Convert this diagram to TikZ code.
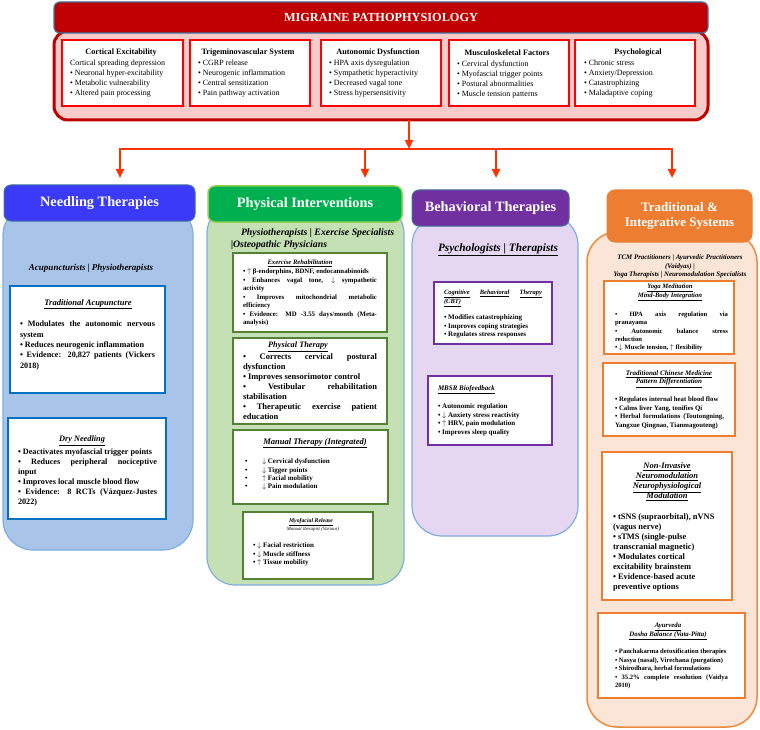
\documentclass[tikz,border=0pt]{standalone}
\usepackage{fontspec}
\setmainfont{Liberation Serif}
\usetikzlibrary{arrows.meta}
\definecolor{tred}{HTML}{C00000}
\definecolor{tbord}{HTML}{41719C}
\definecolor{cpink}{HTML}{F8CBCB}
\definecolor{bred}{HTML}{FF0000}
\definecolor{arrowc}{HTML}{FF3300}
\definecolor{nblue}{HTML}{3A3AF8}
\definecolor{nbodyc}{HTML}{A8C4E8}
\definecolor{nline}{HTML}{0070C0}
\definecolor{bodyline}{HTML}{7FAEDE}
\definecolor{pgreen}{HTML}{00B050}
\definecolor{pgline}{HTML}{92D050}
\definecolor{pbodyc}{HTML}{C5E0B4}
\definecolor{pline}{HTML}{548235}
\definecolor{bpurp}{HTML}{7030A0}
\definecolor{bbodyc}{HTML}{E5D6F2}
\definecolor{torange}{HTML}{ED7D31}
\definecolor{tbodyc}{HTML}{FBE5D6}
\definecolor{tline}{HTML}{F08A3C}
\tolerance=9999 \hyphenpenalty=10000 \exhyphenpenalty=10000 \hbadness=10000
\newcommand\fs[2]{\fontsize{#1}{#2}\selectfont}
\newcommand\mkbox[7]{\pgfmathsetmacro\mkbw{#5-#3}\pgfmathsetmacro\mkbh{#6-#4}%
  \node[#1, minimum width=\mkbw pt, minimum height=\mkbh pt, anchor=north west, inner sep=0pt, outer sep=0pt] (#2) at (#3,#4) {#7};}
\begin{document}
\begin{tikzpicture}[x=1pt,y=-1pt,
  every node/.style={inner sep=0pt, outer sep=0pt},
  txt/.style={anchor=north west, align=justify},
  lft/.style={anchor=north west, align=left},
  ctr/.style={align=center},
  topbox/.style={draw=bred, line width=1.6pt, fill=white},
  toptitle/.style={font=\bfseries\fs{8.2}{10}},
  topitems/.style={lft, font=\fs{8}{10}},
  headbox/.style={rounded corners=7pt, text=white, align=center, font=\bfseries\fs{14.3}{16}},
  nbox/.style={draw=nline, line width=2pt, fill=white},
  pbox/.style={draw=pline, line width=2pt, fill=white},
  bbox/.style={draw=bpurp, line width=1.6pt, fill=white},
  obox/.style={draw=torange, line width=2pt, fill=white},
  flowline/.style={draw=arrowc, line width=2.2pt, line cap=rect},
  arrowline/.style={draw=arrowc, line width=2.2pt, -{Triangle[length=9pt,width=8pt]}}]
\useasboundingbox (0,0) rectangle (760,730);

% ---------- pathophysiology ----------
\mkbox{draw=tred, line width=3pt, fill=cpink, rounded corners=14pt}{cont}{54}{31}{708}{120}{}
\mkbox{draw=tbord, line width=1.2pt, fill=tred, rounded corners=6pt, text=white, font=\bfseries\fs{12.3}{14}}{title}{54}{2}{708}{33}{MIGRAINE PATHOPHYSIOLOGY}

\mkbox{topbox}{ce}{62}{40}{183}{106}{}
\node[toptitle] (ceT) at (121,53) {Cortical Excitability};
\node[topitems] (ceL) at (70,60.4) {Cortical spreading depression\\• Neuronal hyper-excitability\\• Metabolic vulnerability\\• Altered pain processing};

\mkbox{topbox}{tv}{190}{40}{310}{106}{}
\node[toptitle] (tvT) at (248,53) {Trigeminovascular System};
\node[topitems] (tvL) at (198,60.4) {• CGRP release\\• Neurogenic inflammation\\• Central sensitization\\• Pain pathway activation};

\mkbox{topbox}{ad}{321}{40}{441}{106}{}
\node[toptitle] (adT) at (378,53) {Autonomic Dysfunction};
\node[topitems] (adL) at (329,60.4) {• HPA axis dysregulation\\• Sympathetic hyperactivity\\• Decreased vagal tone\\• Stress hypersensitivity};

\mkbox{topbox}{ms}{449}{40}{569}{106}{}
\node[toptitle] (msT) at (507,53) {Musculoskeletal Factors};
\node[topitems] (msL) at (457,60.4) {• Cervical dysfunction\\• Myofascial trigger points\\• Postural abnormalities\\• Muscle tension patterns};

\mkbox{topbox}{ps}{575}{40}{695}{106}{}
\node[toptitle] (psT) at (638,53) {Psychological};
\node[topitems] (psL) at (584,60.4) {• Chronic stress\\• Anxiety/Depression\\• Catastrophizing\\• Maladaptive coping};

% ---------- connectors ----------
\coordinate (hub) at (409,149);
\coordinate (jN) at (120,149);
\coordinate (jP) at (365,149);
\coordinate (jB) at (496,149);
\coordinate (jT) at (672,149);
\coordinate (tN) at (120,178);
\coordinate (tP) at (365,178);
\coordinate (tB) at (496,178);
\coordinate (tT) at (672,178);
\draw[arrowline] (cont.south -| hub) -- (hub);
\draw[flowline] (jN) -- (jT);
\draw[arrowline] (jN) -- (tN);
\draw[arrowline] (jP) -- (tP);
\draw[arrowline] (jB) -- (tB);
\draw[arrowline] (jT) -- (tT);

% ---------- needling ----------
\mkbox{draw=bodyline, line width=1.2pt, fill=nbodyc, rounded corners=30pt}{nbody}{3}{205}{193}{550}{}
\mkbox{headbox, draw=tbord, line width=1pt, fill=nblue}{nhead}{4}{185}{195}{221}{Needling Therapies}
\node[font=\bfseries\itshape\fs{9}{11}] (nprof) at (91,268) {Acupuncturists | Physiotherapists};
\mkbox{nbox}{acu}{10}{286}{165}{393}{}
\node[font=\bfseries\itshape\fs{8.5}{10}] (acuT) at (88,304) {\underline{Traditional Acupuncture}};
\node[txt, text width=135pt, font=\bfseries\fs{8.2}{10.3}] (acuL) at (20,321.3) {• Modulates the autonomic nervous\linebreak system\\• Reduces neurogenic inflammation\\• Evidence: 20,827 patients (Vickers\linebreak 2018)};
\mkbox{nbox}{dry}{8}{418}{166}{519}{}
\node[font=\bfseries\itshape\fs{8.3}{10}] (dryT) at (82,441) {\underline{Dry Needling}};
\node[txt, text width=139pt, font=\bfseries\fs{8.2}{10}] (dryL) at (18,448.3) {• Deactivates myofascial trigger points\\• Reduces peripheral nociceptive\linebreak input\\• Improves local muscle blood flow\\• Evidence: 8 RCTs (Vázquez-Justes\linebreak 2022)};

% ---------- physical ----------
\mkbox{draw=bodyline, line width=1.2pt, fill=pbodyc, rounded corners=28pt}{pbody}{207}{205}{404}{585}{}
\mkbox{headbox, draw=pgline, line width=1.5pt, fill=pgreen}{phead}{208}{186}{402}{222}{Physical Interventions}
\node[anchor=west, font=\bfseries\itshape\fs{9.8}{11}] (pprofA) at (241,233) {Physiotherapists | Exercise Specialists};
\node[anchor=west, font=\bfseries\itshape\fs{9.8}{11}] (pprofB) at (231,245) {|Osteopathic Physicians};
\mkbox{pbox}{exr}{233}{253}{387}{332}{}
\node[font=\bfseries\itshape\fs{6.7}{8}] (exrT) at (300,263) {\underline{Exercise Rehabilitation}};
\node[txt, text width=134pt, font=\bfseries\fs{6.8}{8.5}] (exrL) at (243,268.9) {• $\uparrow$ β-endorphins, BDNF, endocannabinoids\\• Enhances vagal tone, $\downarrow$ sympathetic\linebreak activity\\• Improves mitochondrial metabolic\linebreak efficiency\\• Evidence: MD -3.55 days/month (Meta-\linebreak analysis)};
\mkbox{pbox}{pht}{233}{338}{387}{424}{}
\node[font=\bfseries\itshape\fs{8.3}{10}] (phtT) at (298,347) {\underline{Physical Therapy}};
\node[txt, text width=134pt, font=\bfseries\fs{8.5}{10}] (phtL) at (243,353.2) {• Corrects cervical postural\linebreak dysfunction\\• Improves sensorimotor control\\• Vestibular rehabilitation\linebreak stabilisation\\• Therapeutic exercise patient\linebreak education};
\mkbox{pbox}{man}{233}{430}{388}{504}{}
\node[font=\bfseries\itshape\fs{8.5}{10}] (manT) at (315,443) {\underline{Manual Therapy (Integrated)}};
\node[lft, font=\bfseries\fs{7}{8.3}] (manL) at (245,458.8) {\makebox[17pt][l]{•}$\downarrow$ Cervical dysfunction\\\makebox[17pt][l]{•}$\downarrow$ Tigger points\\\makebox[17pt][l]{•}$\uparrow$ Facial mobility\\\makebox[17pt][l]{•}$\downarrow$ Pain modulation};
\mkbox{pbox}{myo}{243}{512}{373}{579}{}
\node[font=\bfseries\itshape\fs{5.8}{7}] (myoT) at (311,522) {\underline{Myofacial Release}};
\node[font=\itshape\fs{4.8}{6}] (myoS) at (313,529) {Manual therapist (Various)};
\node[lft, font=\bfseries\fs{7}{8.5}] (myoL) at (253,542.8) {• $\downarrow$ Facial restriction\\• $\downarrow$ Muscle stiffness\\• $\uparrow$ Tissue mobility};

% ---------- behavioral ----------
\mkbox{draw=bodyline, line width=1.2pt, fill=bbodyc, rounded corners=30pt}{bbody}{412}{215}{578}{536}{}
\mkbox{headbox, draw=tbord, line width=1pt, fill=bpurp}{bhead}{412}{190}{569}{226}{Behavioral Therapies}
\node[font=\bfseries\itshape\fs{11.3}{13}] (bprof) at (498,250) {\underline{Psychologists | Therapists}};
\mkbox{bbox}{cbt}{434}{282}{552}{344}{}
\node[lft, font=\bfseries\itshape\fs{6.5}{9}] (cbtT) at (444,290) {\hbox to 98pt{\underline{Cognitive}\hfill\underline{Behavioral}\hfill\underline{Therapy}}\\\underline{(CBT)}};
\node[lft, font=\bfseries\fs{7}{8.5}] (cbtL) at (444,314.8) {• Modifies catastrophizing\\• Improves coping strategies\\• Regulates stress responses};
\mkbox{bbox}{mbsr}{428}{376}{552}{445}{}
\node[anchor=west, font=\bfseries\itshape\fs{7}{8.5}] (mbsrT) at (438,390) {\underline{MBSR Biofeedback}};
\node[lft, font=\bfseries\fs{7}{8.5}] (mbsrL) at (438,403.8) {• Autonomic regulation\\• $\downarrow$ Anxiety stress reactivity\\• $\uparrow$ HRV, pain modulation\\• Improves sleep quality};

% ---------- traditional ----------
\mkbox{draw=tline, line width=1.5pt, fill=tbodyc, rounded corners=30pt}{tbody}{587}{232}{757}{727}{}
\mkbox{headbox, draw=torange, line width=1pt, fill=torange, rounded corners=8pt, font=\bfseries\fs{13}{15}}{thead}{607}{190}{752}{242}{Traditional \&\\Integrative Systems}
\node[ctr, font=\bfseries\itshape\fs{6.9}{8.5}] (tprof) at (680,266.5) {TCM Practitioners | Ayurvedic Practitioners\\(Vaidyas) |\\Yoga Therapists | Neuromodulation Specialists};
\mkbox{obox}{yoga}{604}{281}{734}{354}{}
\node[ctr, font=\bfseries\itshape\fs{6.7}{9}] (yogaT) at (670,292.5) {\underline{Yoga Meditation}\\\underline{Mind-Body Integration}};
\node[txt, text width=113pt, font=\bfseries\fs{6.6}{8.3}] (yogaL) at (615,312) {• HPA axis regulation via\linebreak pranayama\\• Autonomic balance stress\linebreak reduction\\• $\downarrow$ Muscle tension, $\uparrow$ flexibility};
\mkbox{obox}{tcm}{603}{363}{735}{436}{}
\node[ctr, font=\bfseries\itshape\fs{7}{8.5}] (tcmT) at (669,379) {\underline{Traditional Chinese Medicine}\\\underline{Pattern Differentiation}};
\node[txt, text width=109pt, font=\bfseries\fs{6.8}{8.6}] (tcmL) at (615,396.9) {• Regulates internal heat blood flow\\• Calms liver Yang, tonifies Qi\\• Herbal formulations (Toutongning,\linebreak Yangxue Qingnao, Tianmagouteng)};
\mkbox{obox}{nim}{602}{452}{732}{600}{}
\node[ctr, font=\bfseries\itshape\fs{8.5}{10}] (nimT) at (667,482) {\underline{Non-Invasive}\\\underline{Neuromodulation}\\\underline{Neurophysiological}\\\underline{Modulation}};
\node[lft, font=\bfseries\fs{8.4}{10.1}] (nimL) at (613,513.2) {• tSNS (supraorbital), nVNS\\(vagus nerve)\\• sTMS (single-pulse\\transcranial magnetic)\\• Modulates cortical\\excitability brainstem\\• Evidence-based acute\\preventive options};
\mkbox{obox}{ayu}{598}{613}{745}{698}{}
\node[ctr, font=\bfseries\itshape\fs{6.8}{9}] (ayuT) at (668,631.5) {\underline{Ayurveda}\\\underline{Dosha Balance (Vata-Pitta)}};
\node[txt, text width=113pt, font=\bfseries\fs{6.6}{8.5}] (ayuL) at (615,649) {• Panchakarma detoxification therapies\\• Nasya (nasal), Virechana (purgation)\\• Shirodhara, herbal formulations\\• 35.2\% complete resolution (Vaidya\linebreak 2010)};
\end{tikzpicture}
\end{document}
